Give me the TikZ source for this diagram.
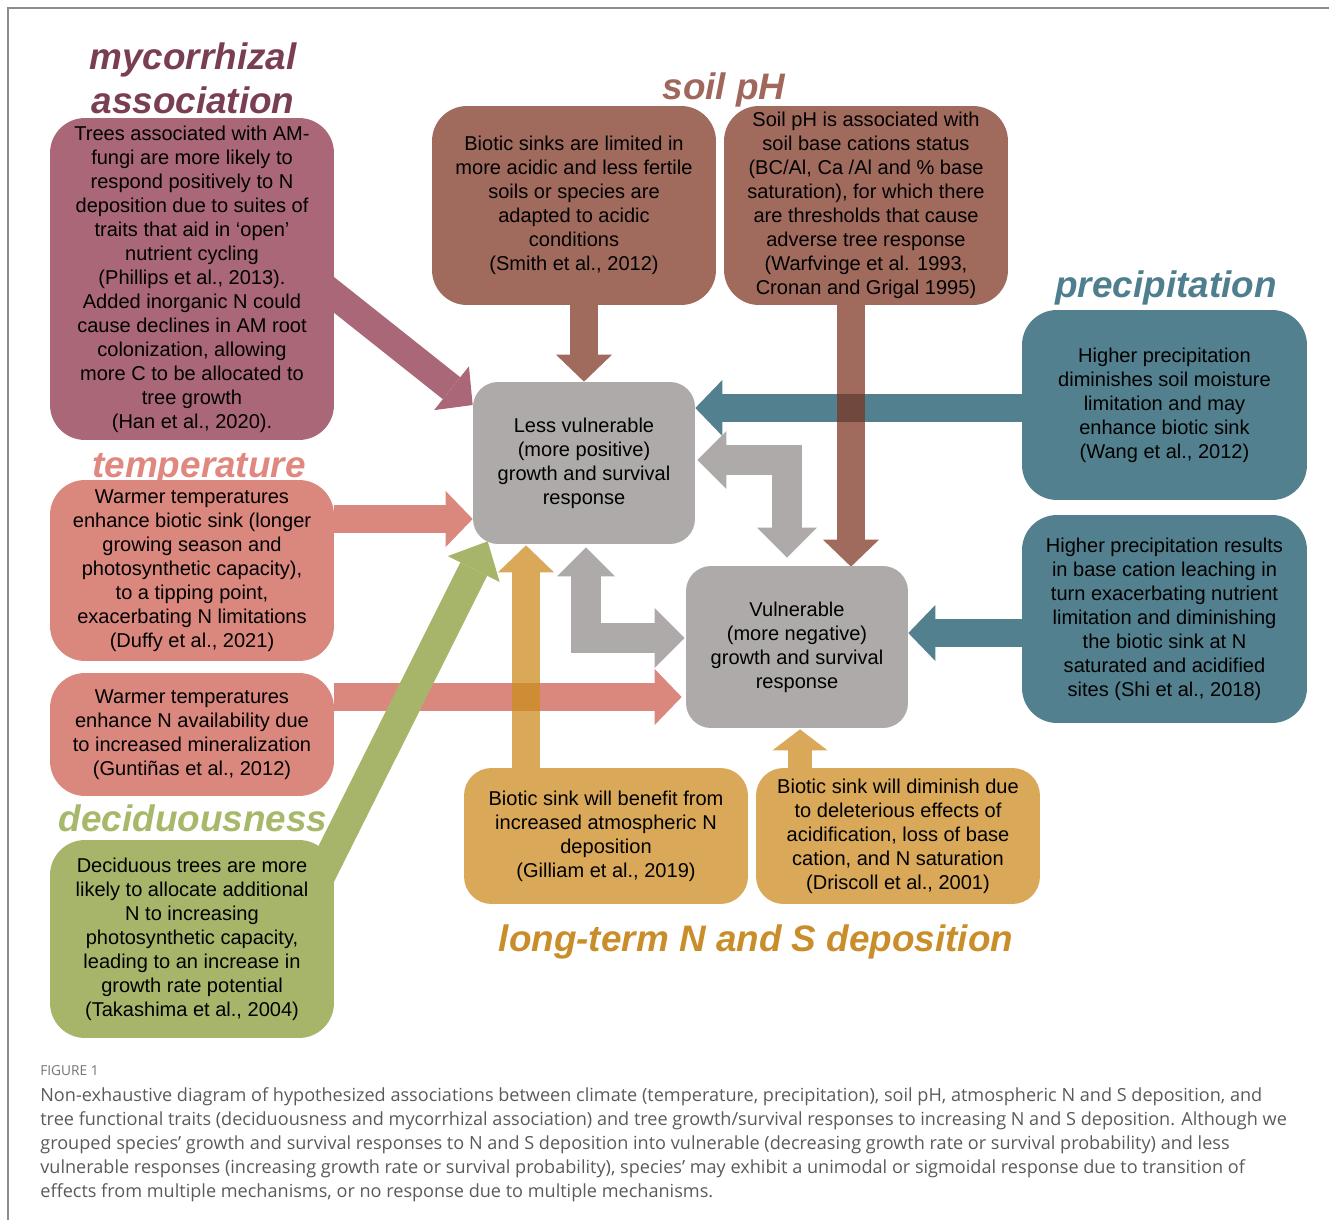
\documentclass[tikz,border=0pt]{standalone}
\usepackage{fontspec}
\setmainfont{Liberation Sans}
\newfontfamily\capfont{Open Sans}
\usetikzlibrary{positioning}
\usetikzlibrary{calc}
\usetikzlibrary{backgrounds}
\usetikzlibrary{arrows.meta}

\definecolor{mycoC}{RGB}{169,103,120}
\definecolor{mycoH}{RGB}{122,62,84}
\definecolor{soilC}{RGB}{160,106,93}
\definecolor{soilH}{RGB}{160,104,92}
\definecolor{rainC}{RGB}{83,128,142}
\definecolor{rainH}{RGB}{79,127,142}
\definecolor{warmC}{RGB}{218,135,126}
\definecolor{warmH}{RGB}{224,136,128}
\definecolor{leafC}{RGB}{166,181,106}
\definecolor{leafH}{RGB}{166,184,106}
\definecolor{depC}{RGB}{217,168,88}
\definecolor{depH}{RGB}{201,142,42}
\definecolor{respC}{RGB}{173,170,169}
\definecolor{acidDark}{RGB}{112,72,62}
\definecolor{depDark}{RGB}{206,140,52}
\definecolor{frameC}{RGB}{140,140,140}
\definecolor{capC}{RGB}{90,90,90}

\newcommand\boxfont{\fontsize{11.4}{13.66}\selectfont}
\newcommand\headfont{\fontsize{21}{25}\selectfont\bfseries\itshape}

\tikzset{
	card/.style={rounded corners=0.7cm, minimum width=5.68cm, align=center, font=\boxfont, inner sep=0pt, text=black},
	resp/.style={rounded corners=0.5cm, minimum width=4.44cm, minimum height=3.24cm, align=center, font=\boxfont, inner sep=0pt, fill=respC},
	head/.style={font=\headfont, inner sep=0pt, anchor=base},
	fat/.style={line width=0.56cm, -{Triangle[length=0.54cm, width=1.12cm, line width=0pt]}},
	fatsmall/.style={line width=0.48cm, -{Triangle[length=0.42cm, width=1.1cm, line width=0pt]}},
	fatgreen/.style={line width=0.6cm, -{Triangle[length=0.62cm, width=1.16cm, line width=0pt]}},
	fatboth/.style={line width=0.6cm, {Triangle[length=0.58cm, width=1.16cm, line width=0pt]}-{Triangle[length=0.6cm, width=1.2cm, line width=0pt]}},
}

\begin{document}
\begin{tikzpicture}[x=0.02cm, y=-0.02cm]
	\useasboundingbox (0,0) rectangle (1329,1220);
	\draw[frameC, line width=0.04cm] (8,1220) -- (8,8) -- (1329,8);

	% headings
	\node[head, text=mycoH] (MycoHead) at (193,70) {mycorrhizal};
	\node[head, text=mycoH] (MycoHeadB) at (193,113) {association};
	\node[head, text=soilH] (SoilHead) at (724,100) {soil pH};
	\node[head, text=rainH] (RainHead) at (1166,297) {precipitation};
	\node[head, text=warmH] (WarmHead) at (199,477) {temperature};
	\node[head, text=leafH] (LeafHead) at (193,831) {deciduousness};
	\node[head, text=depH] (DepHead) at (756,951) {long-term N and S deposition};

	% driver boxes
	\node[card, fill=mycoC, minimum height=6.44cm] (Myco) at (192,279) {Trees associated with AM-\\fungi are more likely to\\respond positively to N\\deposition due to suites of\\traits that aid in ‘open’\\nutrient cycling\\(Phillips et al., 2013).\\Added inorganic N could\\cause declines in AM root\\colonization, allowing\\more C to be allocated to\\tree growth\\(Han et al., 2020).};
	\node[card, fill=soilC, minimum height=3.98cm] (SoilA) at (574,205.5) {Biotic sinks are limited in\\more acidic and less fertile\\soils or species are\\adapted to acidic\\conditions\\(Smith et al., 2012)};
	\node[card, fill=soilC, minimum height=3.98cm] (SoilB) at (866,205.5) {Soil pH is associated with\\soil base cations status\\(BC/Al, Ca /Al and \% base\\saturation), for which there\\are thresholds that cause\\adverse tree response\\(Warfvinge et al. 1993,\\Cronan and Grigal 1995)};
	\node[card, fill=rainC, minimum width=5.7cm, minimum height=3.8cm] (PrecA) at (1164.5,405) {Higher precipitation\\diminishes soil moisture\\limitation and may\\enhance biotic sink\\(Wang et al., 2012)};
	\node[card, fill=rainC, minimum width=5.7cm, minimum height=4.16cm] (PrecB) at (1164.5,619) {Higher precipitation results\\in base cation leaching in\\turn exacerbating nutrient\\limitation and diminishing\\the biotic sink at N\\saturated and acidified\\sites (Shi et al., 2018)};
	\node[card, fill=warmC, minimum height=3.62cm] (TempA) at (192,570.5) {Warmer temperatures\\enhance biotic sink (longer\\growing season and\\photosynthetic capacity),\\to a tipping point,\\exacerbating N limitations\\(Duffy et al., 2021)};
	\node[card, fill=warmC, minimum height=2.46cm] (TempB) at (192,734.5) {Warmer temperatures\\enhance N availability due\\to increased mineralization\\(Guntiñas et al., 2012)};
	\node[card, fill=leafC, minimum height=3.96cm] (Decid) at (192,939) {Deciduous trees are more\\likely to allocate additional\\N to increasing\\photosynthetic capacity,\\leading to an increase in\\growth rate potential\\(Takashima et al., 2004)};
	\node[card, fill=depC, rounded corners=0.55cm, minimum height=2.72cm] (DepA) at (606,836) {Biotic sink will benefit from\\increased atmospheric N\\deposition\\(Gilliam et al., 2019)};
	\node[card, fill=depC, rounded corners=0.55cm, minimum height=2.72cm] (DepB) at (898,836) {Biotic sink will diminish due\\to deleterious effects of\\acidification, loss of base\\cation, and N saturation\\(Driscoll et al., 2001)};

	% response boxes
	\node[resp] (Less) at (584,463) {Less vulnerable\\(more positive)\\growth and survival\\response};
	\node[resp] (Vuln) at (797,647) {Vulnerable\\(more negative)\\growth and survival\\response};

	% arrows
	\coordinate (WetTip) at ($(Less.east)+(0,-55)$);
	\coordinate (LeachTip) at ($(Vuln.east)+(0,-14)$);
	\coordinate (WarmTip) at ($(Less.west)+(0,56)$);
	\coordinate (MinTip) at ($(Vuln.west)+(-4,50)$);
	\coordinate (AcidTip) at ($(Vuln.north)+(54,1)$);
	\coordinate (DepTipA) at ($(Less.south)+(-58,1)$);
	\coordinate (DepTipB) at ($(Vuln.south)+(3,1)$);
	\coordinate (LoopTipA) at ($(Vuln.north)+(-10,-8)$);
	\coordinate (LoopTipB) at ($(Vuln.west)+(-1,-9)$);
	\begin{scope}[on background layer]
		\draw[fat, rainC] (PrecA.west |- WetTip) -- (WetTip);
		\draw[fat, rainC] (PrecB.west |- LeachTip) -- (LeachTip);
		\draw[fat, warmC] (TempA.east |- WarmTip) -- (WarmTip);
		\draw[fat, warmC] (TempB.east |- MinTip) -- (MinTip);
		\draw[fat, mycoC] ($(Myco.east)+(-14,5)$) -- ($(Less.west)+(0,-58)$);
		\draw[fatboth, respC] ($(Less.east)+(2,-3)$) -| (LoopTipA);
		\draw[fatboth, respC] ($(Less.south)+(2,3)$) |- (LoopTipB);
		\draw[fat, soilC] (Less.north |- SoilA.south) -- (Less.north);
		\draw[fat, soilC] (AcidTip |- SoilB.south) -- (AcidTip);
		\draw[fat, depC] (DepTipA |- DepA.north) -- (DepTipA);
		\draw[fatsmall, depC] (DepTipB |- DepB.north) -- (DepTipB);
		\fill[acidDark] (AcidTip |- WetTip) +(-14,-14) rectangle +(14,14);
		\fill[depDark] (DepTipA |- MinTip) +(-14,-14) rectangle +(14,14);
		\draw[fatgreen, leafC] ($(Decid.north east)+(-16,40)$) -- ($(Less.south west)+(15,-3)$);
	\end{scope}

	% caption
	\node[anchor=west, font=\capfont\fontsize{7.8}{9}\selectfont, text=capC!85, inner sep=0pt] (FigLabel) at (40,1071) {FIGURE 1};
	\node[anchor=north west, align=left, font=\capfont\fontsize{10.3}{13.66}\selectfont, text=capC, inner sep=0pt] (Caption) at (40,1087) {Non-exhaustive diagram of hypothesized associations between climate (temperature, precipitation), soil pH, atmospheric N and S deposition, and\\tree functional traits (deciduousness and mycorrhizal association) and tree growth/survival responses to increasing N and S deposition. Although we\\grouped species’ growth and survival responses to N and S deposition into vulnerable (decreasing growth rate or survival probability) and less\\vulnerable responses (increasing growth rate or survival probability), species’ may exhibit a unimodal or sigmoidal response due to transition of\\effects from multiple mechanisms, or no response due to multiple mechanisms.};
\end{tikzpicture}
\end{document}
